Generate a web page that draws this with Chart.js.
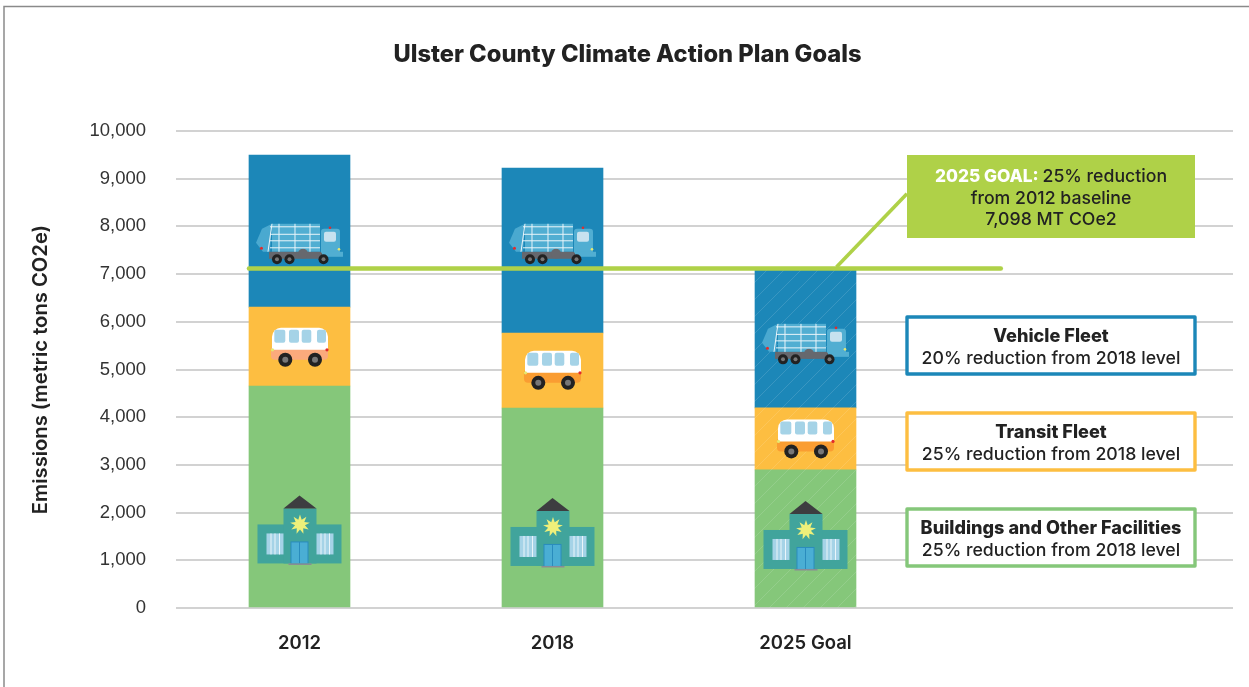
<!DOCTYPE html>
<html><head><meta charset="utf-8">
<style>html,body{margin:0;padding:0;background:#fff}canvas{display:block}</style>
<script src="https://cdn.jsdelivr.net/npm/chart.js@4"></script>
</head><body><canvas id="c" width="1249" height="687"></canvas>
<script>
const categories = ['2012', '2018', '2025 Goal'];
const categoryPositions = [0, 1, 2];
const buildings = [4654, 4193, 2895];
const transit = [1654, 1572, 1300];
const vehicles = [3189, 3459, 2903];
const goalLineX = [-0.1996, 2.772];
const goalLineY = [7120, 7120];
const leaderX = [2.1225, 2.401];
const leaderY = [7150, 8685];
const truckCentres = [7646, 7646, 5548];
const busCentres = [5465, 4982, 3545];
const buildingCentres = [1626, 1573, 1510];
const busLowerColours = ['#fbaa7c', '#fa9d32', '#fa9d32'];
const yTicksStep = 1000;
const titleText = 'Ulster County Climate Action Plan Goals';
const yTitleText = 'Emissions (metric tons CO2e)';

const BLUE='#1c87b8', YEL='#fdbe41', GRN='#85c77a', LIME='#afd148', INK='#222222';
const UI='Inter, Roboto, sans-serif', NUM='"Liberation Sans", Arial, sans-serif';

function hatch(base){
  const s=17, t=document.createElement('canvas'); t.width=t.height=s;
  const g=t.getContext('2d'); g.fillStyle=base; g.fillRect(0,0,s,s);
  g.strokeStyle='rgba(255,255,255,0.13)'; g.lineWidth=1;
  g.beginPath();
  g.moveTo(-2,s+2);g.lineTo(s+2,-2);
  g.moveTo(-2,2);g.lineTo(2,-2);
  g.moveTo(s-2,s+2);g.lineTo(s+2,s-2);
  g.stroke();
  return document.createElement('canvas').getContext('2d').createPattern(t,'repeat');
}
function rrect(g,x,y,w,h,r){g.beginPath();g.roundRect(x,y,w,h,r);}
function rect(g,c,x,y,w,h){g.fillStyle=c;g.fillRect(x,y,w,h);}
function dot(g,c,x,y,r){g.fillStyle=c;g.beginPath();g.arc(x,y,r,0,Math.PI*2);g.fill();}

function drawTruck(g){
  g.fillStyle='#4aa9d0';
  g.beginPath();g.moveTo(0,20);g.lineTo(6,6);g.lineTo(16,1);g.lineTo(14,29);g.lineTo(7,29);g.closePath();g.fill();
  rect(g,'#51aed2',16,1,48,28);
  rect(g,'#66686e',13,29,53,7);
  dot(g,'#66686e',47,31,5);
  g.strokeStyle='#eaf5fa';g.lineWidth=1;g.beginPath();
  [[16,1,12,29],[23,1,23,29],[39,1,39,29],[54,1,54,29]].forEach(a=>{g.moveTo(a[0],a[1]);g.lineTo(a[2],a[3]);});
  [4,11.5,18,25].forEach(y=>{g.moveTo(14,y);g.lineTo(64,y);});
  g.stroke();
  g.fillStyle='#51aed2';rrect(g,65,6,19,24,[3,3,0,0]);g.fill();
  rect(g,'#51aed2',66,29,21,5);
  g.fillStyle='#c7e2ef';rrect(g,68,9,12,10,2);g.fill();
  [21,33.5,67.5].forEach(x=>{dot(g,'#222',x,36.5,5);dot(g,'#777',x,36.5,2);});
  dot(g,'#e22b2b',5.5,25.5,1.5);dot(g,'#e22b2b',74,5,1.3);dot(g,'#e6e870',83,26.5,1.3);
}
function drawBus(g,lower){
  g.fillStyle=lower;rrect(g,0,20,57,12,[0,0,4,4]);g.fill();
  g.fillStyle='#fff';rrect(g,1,0,56,22,[9,9,0,0]);g.fill();
  g.fillStyle='#a5d3e7';
  [[3.3,11],[18,10],[30.7,9.6],[46,9]].forEach(w=>{rrect(g,w[0],2,w[1],13,2);g.fill();});
  [14.3,44].forEach(x=>{dot(g,'#222',x,32,7);dot(g,'#777',x,32,3);});
  dot(g,'#e22b2b',56,22,1.6);dot(g,'#e6e870',1.5,22,1.6);
}
function drawBuilding(g){
  rect(g,'#41a49c',0,29,84,39);
  rect(g,'#41a49c',26,13,33,55);
  g.fillStyle='#3d3d40';g.beginPath();g.moveTo(26,13);g.lineTo(42,0);g.lineTo(59,13);g.closePath();g.fill();
  g.fillStyle='#eef07a';g.beginPath();
  for(let i=0;i<18;i++){const r=i%2?5:10,a=i*Math.PI/9-Math.PI/2;const x=42.5+r*Math.cos(a),y=29+r*Math.sin(a);i?g.lineTo(x,y):g.moveTo(x,y);}
  g.closePath();g.fill();
  [9,59].forEach(x=>{rect(g,'#a5d3e7',x,38,17,21);
    [4,8,12.5].forEach(d=>rect(g,'#eaf5fa',x+d,38,1,21));});
  rect(g,'#2a8cbd',33,46,18,22);
  rect(g,'#4aaed4',34,47,7.5,21);rect(g,'#4aaed4',42.5,47,7.5,21);
  rect(g,'#8a8a96',31,68,23,1.5);
}
function textLines(g,lines,cx,y0,dy){
  lines.forEach((runs,i)=>{
    let w=0;runs.forEach(r=>{g.font=r.font;w+=g.measureText(r.t).width;});
    let x=cx-w/2;
    runs.forEach(r=>{g.font=r.font;g.fillStyle=r.c;g.fillText(r.t,x,y0+i*dy);x+=g.measureText(r.t).width;});
  });
}
const REG='500 17.7px '+UI, BLD='800 18.1px '+UI, GOAL='800 17.3px '+UI;
const overlay={id:'overlay',
  beforeDraw(ch){const g=ch.ctx;
    g.save();g.strokeStyle='#8a8a8a';g.lineWidth=1.5;g.beginPath();g.moveTo(1249,6.5);g.lineTo(4,6.5);g.lineTo(4,687);g.stroke();g.restore();},
  afterDatasetsDraw(ch){const g=ch.ctx,xs=ch.scales.x,ys=ch.scales.y;
    g.save();
    categoryPositions.forEach((v,i)=>{
      const cx=xs.getPixelForValue(v);
      g.save();g.translate(cx-43.5,ys.getPixelForValue(truckCentres[i])-20.5);drawTruck(g);g.restore();
      g.save();g.translate(cx-28.5,ys.getPixelForValue(busCentres[i])-19.5);drawBus(g,busLowerColours[i]);g.restore();
      g.save();g.translate(cx-42,ys.getPixelForValue(buildingCentres[i])-35);drawBuilding(g);g.restore();
    });
    g.textBaseline='alphabetic';g.textAlign='left';
    rect(g,LIME,907,155,288,83);
    textLines(g,[[{t:'2025 GOAL: ',font:GOAL,c:'#fff'},{t:'25% reduction',font:REG,c:INK}],
      [{t:'from 2012 baseline',font:REG,c:INK}],[{t:'7,098 MT COe2',font:REG,c:INK}]],1051,182,21.5);
    [[BLUE,317,'Vehicle Fleet','20% reduction from 2018 level'],
     [YEL,413,'Transit Fleet','25% reduction from 2018 level'],
     [GRN,509,'Buildings and Other Facilities','25% reduction from 2018 level']].forEach(b=>{
      g.fillStyle='#fff';g.fillRect(907,b[1],288,57);
      g.strokeStyle=b[0];g.lineWidth=3.4;g.lineJoin='round';g.strokeRect(907,b[1],288,57);
      textLines(g,[[{t:b[2],font:BLD,c:INK}],[{t:b[3],font:REG,c:INK}]],1051,b[1]+25,22);
    });
    g.restore();}
};
const toXY=(vals)=>vals.map((y,i)=>({x:categoryPositions[i],y}));
new Chart(document.getElementById('c'),{
  data:{datasets:[
    {type:'line',label:'2025 goal',order:0,data:goalLineX.map((x,i)=>({x,y:goalLineY[i]})),borderColor:LIME,borderWidth:4.5,borderCapStyle:'round',pointRadius:0,tension:0},
    {type:'line',label:'Goal leader',order:0,data:leaderX.map((x,i)=>({x,y:leaderY[i]})),borderColor:LIME,borderWidth:3.6,pointRadius:0,tension:0},
    {type:'bar',label:'Buildings and Other Facilities',order:1,data:toXY(buildings),backgroundColor:[GRN,GRN,hatch(GRN)],barThickness:101,borderWidth:0},
    {type:'bar',label:'Transit Fleet',order:1,data:toXY(transit),backgroundColor:[YEL,YEL,hatch(YEL)],barThickness:101,borderWidth:0},
    {type:'bar',label:'Vehicle Fleet',order:1,data:toXY(vehicles),backgroundColor:[BLUE,BLUE,hatch(BLUE)],barThickness:101,borderWidth:0}
  ]},
  options:{responsive:false,animation:false,
    layout:{padding:{left:22,right:16,top:0,bottom:0}},
    plugins:{legend:{display:false},tooltip:{enabled:false},
      title:{display:true,text:titleText,color:INK,font:{family:UI,size:23.7,weight:'800',lineHeight:1.2},padding:{top:41,bottom:61.56}}},
    scales:{
      x:{type:'linear',offset:false,stacked:true,min:-0.4881,max:3.6897,
        grid:{display:false,drawTicks:false},border:{display:false},
        afterBuildTicks(s){s.ticks=categoryPositions.map(value=>({value}));},
        afterFit(s){s.height=79;},
        ticks:{autoSkip:false,maxRotation:0,padding:24,color:INK,font:{family:UI,size:18.5,weight:'600'},
          callback(v){return categories[categoryPositions.indexOf(v)]??'';}}},
      y:{stacked:true,min:0,max:10000,
        grid:{color:'#d2d2d2',lineWidth:2,drawTicks:false},border:{display:false},
        afterFit(s){s.width=154;},
        ticks:{stepSize:yTicksStep,padding:30,color:'#333333',font:{family:NUM,size:18.5,weight:'400'},
          callback(v){return v.toLocaleString('en-US');}},
        title:{display:true,text:yTitleText,color:INK,font:{family:UI,size:20.2,weight:'600',lineHeight:1.2},padding:{top:7,bottom:0}}}
    }},
  plugins:[overlay]
});
</script></body></html>
